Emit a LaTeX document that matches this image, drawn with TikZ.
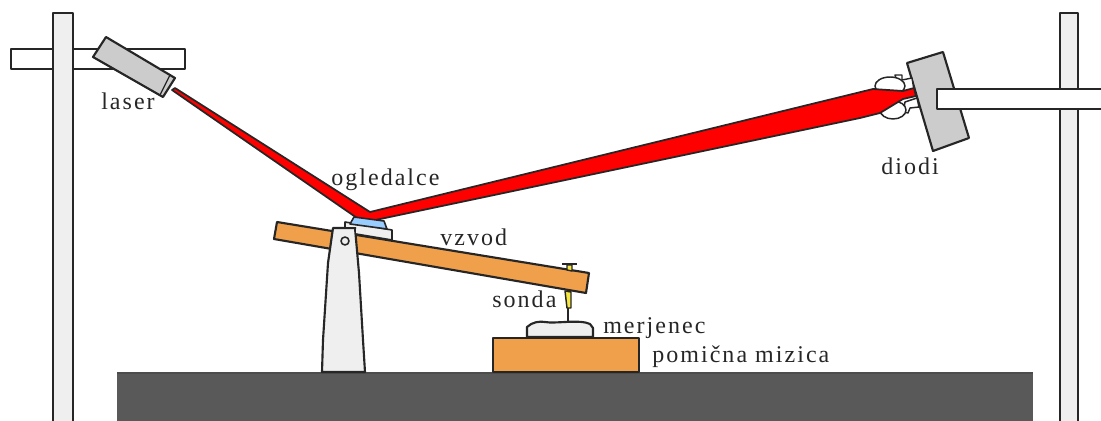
\documentclass[tikz,border=0pt]{standalone}
\usepackage{fontspec}
\setmainfont[LetterSpace=8.5]{Liberation Serif}
\definecolor{leverorange}{HTML}{F0A04B}
\definecolor{tablegrey}{HTML}{595959}
\definecolor{partgrey}{HTML}{CCCCCC}
\definecolor{postgrey}{HTML}{EFEFEF}
\definecolor{mirrorblue}{HTML}{99CCFF}
\definecolor{probeyellow}{HTML}{F5E642}
\tikzset{
  part/.style={draw=black!85,line width=1.6pt,line join=round},
  beam/.style={part,fill=red,line width=1.3pt},
  lbl/.style={anchor=base west,inner sep=0pt,font=\fontsize{18}{20}\selectfont,text=black!85}
}
\begin{document}
\begin{tikzpicture}[x=0.75pt,y=0.75pt,yscale=-1,xscale=1]
    \useasboundingbox (0,0) rectangle (1101,421);

    %Left stand
    \draw [part,fill=white] (11,49) rectangle (185,69);
    \draw [part,fill=postgrey] (53,421) -- (53,13) -- (73,13) -- (73,421);
    %Right stand
    \draw [part,fill=postgrey] (1060,421) -- (1060,13) -- (1078,13) -- (1078,421);
    %Table
    \fill [tablegrey] (117,373) rectangle (1033,421);
    \draw [part,draw=black!70] (117,373) -- (1033,373);

    %Laser
    \draw [part,fill=partgrey] (106,37) -- (175,78) -- (163,97) -- (93,57) -- cycle;
    \draw [part,line width=1pt] (170,75) -- (160,95);
    %Diode plate and arm
    \draw [part,fill=partgrey] (907,63) -- (943,52) -- (969,138) -- (933,151) -- cycle;
    \draw [part,fill=white] (1101,89) -- (937,89) -- (937,109) -- (1101,109);

    %Diodes
    \draw [part,fill=white,line width=1.1pt] (895,75) -- (902,75) -- (902,80) -- (912,78) -- (914,90) -- (900,93) -- cycle;
    \draw [part,fill=white,line width=1.1pt] (905,102) -- (917,98) -- (919,107) -- (910,108) -- (908,113) -- (903,112) -- cycle;
    \draw [part,fill=white,line width=1.1pt] (890,86) ellipse (15 and 9);
    \draw [part,fill=white,line width=1.1pt] (893,110) ellipse (13 and 9);

    %Laser beam with reflection
    \draw [beam] (172,90) -- (175,88) -- (370,212) -- (873,89) -- (903,91) -- (914,88)
        -- (916,96) -- (903,99) -- (880,113) -- (860,118) -- (366,222) -- (357,218) -- cycle;

    %Support and lever
    \draw [part,fill=leverorange] (277,222) -- (589,273) -- (586,293) -- (274,239) -- cycle;
    \draw [part,fill=postgrey] (333,228) -- (355,228) -- (359,273) -- (363,340) -- (365,372) -- (322,372) -- (323,340) -- (328,263) -- cycle;
    \draw [part,fill=postgrey,line width=1.2pt] (345,241) circle (4);

    %Mirror mount
    \draw [part,fill=postgrey,line width=1.2pt] (356,228) -- (345,228) -- (345,222) -- (392,230) -- (392,240) -- (356,234);
    \draw [part,fill=mirrorblue,line width=1.2pt] (354,217) -- (384,221) -- (387,229) -- (350,224) -- cycle;

    %Probe
    \draw [part,fill=probeyellow,line width=1.1pt] (565,291) -- (571,292) -- (571,308) -- (567,308) -- cycle;
    \draw [part,line width=1.8pt] (568,308) -- (568,323);
    \draw [part,fill=probeyellow,line width=1.1pt] (567,265) -- (572,265) -- (572,271) -- (567,270) -- cycle;
    \draw [part,line width=1.1pt] (562,264) -- (577,264);

    %Sample and moving stage
    \draw [part,fill=postgrey] (527,337) -- (527,327) .. controls (532,322) and (540,321) .. (545,322)
        .. controls (555,324) and (580,319) .. (590,324) -- (593,328) -- (593,337) -- cycle;
    \draw [part,fill=leverorange] (493,372) -- (493,338) -- (639,338) -- (639,372) -- cycle;

    % Text Node
    \node [lbl] (laser) at (101,109) {laser};
    % Text Node
    \node [lbl] (mirror) at (331,185) {ogledalce};
    % Text Node
    \node [lbl] (lever) at (440,245) {vzvod};
    % Text Node
    \node [lbl] (probe) at (492,307) {sonda};
    % Text Node
    \node [lbl] (sample) at (603,333) {merjenec};
    % Text Node
    \node [lbl] (stage) at (652,362) {pomična mizica};
    % Text Node
    \node [lbl] (diodes) at (881,174) {diodi};
\end{tikzpicture}
\end{document}
